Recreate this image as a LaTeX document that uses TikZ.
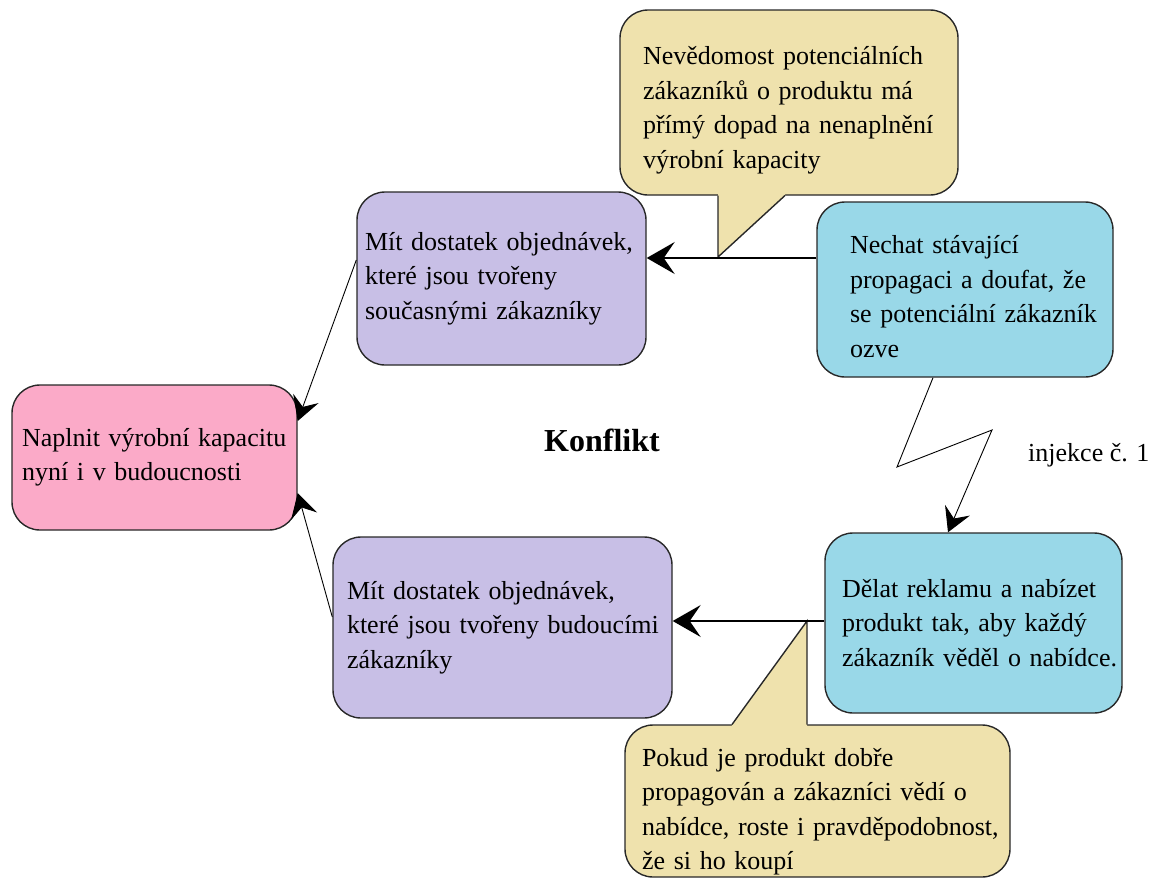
\documentclass[tikz,border=0pt]{standalone}
\usepackage{fontspec}
\setmainfont{Liberation Serif}
\usetikzlibrary{arrows.meta}
\definecolor{noteTan}{RGB}{239,226,173}
\definecolor{stepBlue}{RGB}{153,216,232}
\definecolor{needLilac}{RGB}{200,191,230}
\definecolor{goalPink}{RGB}{251,170,200}
\definecolor{edgeGray}{RGB}{40,40,40}
% one unbreakable line of box text
\newcommand\txtline[1]{\mbox{#1}}
% a tall invisible strut on the first line, moving a text block downwards
\newcommand\pushdown[1]{\rule{0pt}{#1}}
\begin{document}
\begin{tikzpicture}[x=1pt,y=-1pt,
  card/.style={draw=edgeGray, line width=1.4pt, rounded corners=28pt,
    align=left, inner ysep=0pt, font=\fontsize{26}{34.5}\selectfont},
  bigtip/.style={-{Stealth[length=28pt,width=32pt,inset=11pt]}},
  smalltip/.style={-{Stealth[length=24pt,width=27pt,inset=9pt]}},
  flow/.style={line width=1.2pt, bigtip},
  thinflow/.style={line width=0.9pt, smalltip},
  tailside/.style={draw=edgeGray, line width=1.4pt, line join=miter},
]
\useasboundingbox (0,0) rectangle (1152,879);

% goal
\node[card, fill=goalPink, minimum width=285pt, minimum height=145pt,
  inner xsep=10pt, text width=265pt] (goal) at (154.5,457.5)
  {\txtline{Naplnit výrobní kapacitu}\\\txtline{nyní i v budoucnosti}};

% needs
\node[card, fill=needLilac, minimum width=289pt, minimum height=173pt,
  inner xsep=8pt, text width=273pt] (needA) at (501.5,278.5)
  {\txtline{Mít dostatek objednávek,}\\\txtline{které jsou tvořeny}\\\txtline{současnými zákazníky}};
\node[card, fill=needLilac, minimum width=339pt, minimum height=181pt,
  inner xsep=14pt, text width=311pt] (needB) at (502.5,627.5)
  {\txtline{Mít dostatek objednávek,}\\\txtline{které jsou tvořeny budoucími}\\\txtline{zákazníky}};

% prerequisites
\node[card, fill=stepBlue, minimum width=296pt, minimum height=175pt,
  inner xsep=33pt, text width=230pt] (keep) at (965,289.5)
  {\txtline{\pushdown{32pt}Nechat stávající}\\\txtline{propagaci a doufat, že}\\\txtline{se potenciální zákazník}\\\txtline{ozve}};
\node[card, fill=stepBlue, minimum width=297pt, minimum height=180pt,
  inner xsep=17pt, text width=263pt] (advert) at (973.5,623)
  {\txtline{Dělat reklamu a nabízet}\\\txtline{produkt tak, aby každý}\\\txtline{zákazník věděl o nabídce.}};

% assumption callouts
\node[card, fill=noteTan, minimum width=338pt, minimum height=185pt,
  inner xsep=23pt, text width=292pt] (noteA) at (789,102.5)
  {\txtline{\pushdown{34pt}Nevědomost potenciálních}\\\txtline{zákazníků o produktu má}\\\txtline{přímý dopad na nenaplnění}\\\txtline{výrobní kapacity}};
\node[card, fill=noteTan, minimum width=385pt, minimum height=152pt,
  inner xsep=17pt, text width=351pt] (noteB) at (817.5,801)
  {\txtline{\pushdown{40pt}Pokud je produkt dobře}\\\txtline{propagován a zákazníci vědí o}\\\txtline{nabídce, roste i pravděpodobnost,}\\\txtline{že si ho koupí}};

% callout tails
\fill[noteTan] (718,189) -- (718,257) -- (785,195) -- (786,189) -- cycle;
\draw[tailside] (718,195.5) -- (718,257) -- (785,195.5);
\fill[noteTan] (807,731) -- (807,621) -- (732,725) -- (731,731) -- cycle;
\draw[tailside] (732,724.5) -- (807,621) -- (807,724.5);

% labels
\node[font=\fontsize{32}{36}\selectfont\bfseries] (conflict) at (602,440) {Konflikt};
\node[font=\fontsize{26}{30}\selectfont, anchor=west, inner sep=0pt] (inject) at (1028,455) {injekce č. 1};

% connector heights and bends
\coordinate (rowA) at (0,258);
\coordinate (rowB) at (0,621);
\coordinate (needAout) at (0,260);
\coordinate (needBout) at (0,617);
\coordinate (goalInA) at (0,421);
\coordinate (goalInB) at (0,493);
\coordinate (zzStart) at (933,0);
\coordinate (zzEnd) at (948,0);
\coordinate (zzBendA) at (897,467);
\coordinate (zzBendB) at (992,430);

% connectors
\draw[flow] (keep.west |- rowA) -- (needA.east |- rowA);
\draw[flow] (advert.west |- rowB) -- (needB.east |- rowB);
\draw[thinflow] (needA.west |- needAout) -- (goal.east |- goalInA);
\draw[thinflow] (needB.west |- needBout) -- (goal.east |- goalInB);
\draw[thinflow] (keep.south -| zzStart) -- (zzBendA) -- (zzBendB) -- (advert.north -| zzEnd);
\end{tikzpicture}
\end{document}
